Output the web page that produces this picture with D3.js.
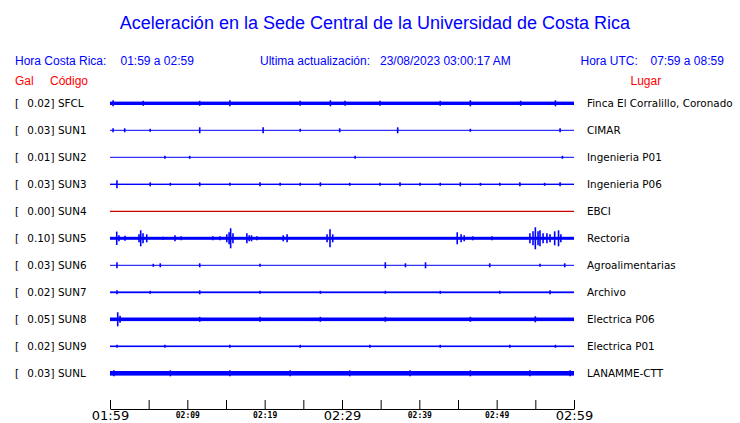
<!DOCTYPE html>
<html><head><meta charset="utf-8">
<script src="https://cdn.jsdelivr.net/npm/d3@7"></script>
<style>body{margin:0;background:#fff}svg{display:block}</style>
</head><body>
<svg id="c" width="740" height="423"></svg>
<script>
// ---- data ----
const title = "Aceleración en la Sede Central de la Universidad de Costa Rica";
const horaCR = "01:59 a 02:59";
const horaUTC = "07:59 a 08:59";
const actualizacion = "23/08/2023 03:00:17 AM";
const codes = ["SFCL","SUN1","SUN2","SUN3","SUN4","SUN5","SUN6","SUN7","SUN8","SUN9","SUNL"];
const gal = ["0.02","0.03","0.01","0.03","0.00","0.10","0.03","0.02","0.05","0.02","0.03"];
const places = ["Finca El Corralillo, Coronado","CIMAR","Ingenieria P01","Ingenieria P06","EBCI","Rectoria","Agroalimentarias","Archivo","Electrica P06","Electrica P01","LANAMME-CTT"];
// minutes after 01:59
const tickMinutes = [0,5,10,15,20,25,30,35,40,45,50,55,60];
const tickLabels = {0:"01:59",10:"02:09",20:"02:19",30:"02:29",40:"02:39",50:"02:49",60:"02:59"};
const bigTicks = [0,30,60];
// background noise level per station (relative amplitude)
const noise = [1.7,0.5,0.5,0.7,0.5,1.5,0.5,0.9,1.8,0.8,2.3];
// peaks per station: [minute, amplitude]
const peaksSFCL = [[0.4,3],[4.3,2.5],[11.6,2.5],[15.5,3],[24.6,2.5],[28.5,3],[30.4,2.5],[34.9,2.5],[42.7,2.5],[46.6,3],[53.1,2.5],[57.6,3]];
const peaksSUN1 = [[0.4,2],[1.9,2],[5.2,1.5],[11.6,3],[19.8,3],[24.6,1.5],[29.7,2],[37.2,3],[46.6,1.5],[58.2,2]];
const peaksSUN2 = [[7.1,1.5],[10.3,1.5],[31.7,1.5],[58.5,1.5]];
const peaksSUN3 = [[0.9,4],[5.2,2],[7.8,1.5],[11.6,2],[15.5,1.5],[19.4,2],[22,1.5],[24.6,1.5],[27.2,2],[31,1.5],[34.9,1.5],[37.5,2],[40.1,1.5],[42.7,1.5],[45.3,2],[47.9,1.5],[50.4,1.5],[53,2],[56.2,1.5],[58.2,2]];
const peaksSUN4 = [];
const peaksSUN5 = [[0.87,6.7],[1.16,3],[1.94,2.5],[3.75,4],[3.97,8],[4.27,5],[4.75,4],[6.85,1.5],[8.4,3],[9.2,2],[13.3,2],[14.2,2],[15.1,4],[15.4,6],[15.6,10],[15.9,5],[17.7,5],[18,3],[18.3,3],[19,2],[22.4,3],[22.9,4],[28.07,4],[28.45,9],[28.8,4],[44.9,6],[45.4,4],[45.8,3],[46.9,2],[49.4,2],[54.3,5],[54.7,7],[55,11],[55.35,7],[55.6,8],[56,5],[56.5,5],[56.9,4],[57.5,7],[58,8],[58.3,4]];
const peaksSUN6 = [[0.9,3],[5.6,1.5],[6.5,2],[11.6,2],[19.4,1.5],[35.6,3],[38.2,2],[40.8,3],[49.1,2],[55.6,1.5],[58.8,2]];
const peaksSUN7 = [[0.9,2],[5.2,1.5],[11.6,2],[19.4,1.5],[27.2,1.5],[35.6,1.5],[42.7,1.5],[50.4,1.5],[56.9,2]];
const peaksSUN8 = [[1.0,7],[1.3,3.5],[11.6,2.5],[19.4,2.5],[27.2,2.5],[35.6,2.5],[46.6,2.5],[55,3]];
const peaksSUN9 = [[0.9,1.5],[7.1,1.5],[15.5,1.5],[24.6,1.5],[33.6,1.5],[42.7,1.5],[51.7,1.5],[57.6,1.5]];
const peaksSUNL = [[0.5,3],[7.8,3],[15.5,3],[23.3,3],[31,3],[38.8,3],[46.6,3],[54.3,3],[59.5,3]];
const peaks = [peaksSFCL,peaksSUN1,peaksSUN2,peaksSUN3,peaksSUN4,peaksSUN5,peaksSUN6,peaksSUN7,peaksSUN8,peaksSUN9,peaksSUNL];
const traceColors = codes.map(c => c === "SUN4" ? "#cc0000" : "#0000ff");

// ---- drawing ----
const svg = d3.select("#c");
const blue = "#0000ff", red = "#ff0000";
const x = d3.scaleLinear().domain([0,60]).range([110,574]);
const row = d3.scaleLinear().domain([0,10]).range([103.3, 373.3]);
const amp = d3.scaleLinear().domain([0,10]).range([0,10]);

svg.append("text").attr("x",375).attr("y",28.5).attr("text-anchor","middle")
  .attr("font-family","Liberation Sans, Arial, sans-serif").attr("font-size",18).attr("fill",blue).text(title);

const hdr = (t,xx,yy,col,anchor) => svg.append("text").attr("x",xx).attr("y",yy)
  .attr("text-anchor",anchor||"start").attr("font-family","Liberation Sans, Arial, sans-serif")
  .attr("font-size",12).attr("fill",col).text(t);
hdr("Hora Costa Rica:",15,65,blue);
hdr(horaCR,120.5,65,blue);
hdr("Ultima actualización:",260,65,blue);
hdr(actualizacion,380,65,blue);
hdr("Hora UTC:",580.5,65,blue);
hdr(horaUTC,650.5,65,blue);
hdr("Gal",15,85,red);
hdr("Código",50,85,red);
hdr("Lugar",630.5,85,red);

const g = svg.append("g");
codes.forEach((c,i) => {
  const y = row(i);
  const font = t => t.attr("font-family","DejaVu Sans, sans-serif").attr("font-size",10.4).attr("fill","#000");
  g.append("text").attr("x",15).attr("y",y+4).call(font).text("[");
  g.append("text").attr("x",54.5).attr("y",y+4).attr("text-anchor","end").call(font).text(gal[i] + "]");
  g.append("text").attr("x",58).attr("y",y+4).call(font).text(c);
  g.append("text").attr("x",587).attr("y",y+4).call(font).text(places[i]);
  // background band
  const n = amp(noise[i]);
  if (codes[i] === "SUN4") {
    g.append("line").attr("x1",x(0)).attr("x2",x(60)).attr("y1",y).attr("y2",y)
      .attr("stroke",traceColors[i]).attr("stroke-width",1.2);
  } else {
    g.append("rect").attr("x",x(0)).attr("width",x(60)-x(0)).attr("y",y-n).attr("height",Math.max(1,2*n))
      .attr("fill",traceColors[i]);
  }
  g.selectAll(null).data(peaks[i]).join("line")
    .attr("x1",d=>x(d[0])).attr("x2",d=>x(d[0]))
    .attr("y1",d=>y-amp(d[1])).attr("y2",d=>y+amp(d[1]))
    .attr("stroke",traceColors[i]).attr("stroke-width",1.6);
});

// axis
const ax = svg.append("g").attr("transform","translate(0,409)")
  .call(d3.axisBottom(x).tickValues(tickMinutes).tickSize(-9).tickSizeOuter(0).tickFormat(d => tickLabels[d] || ""));
ax.select(".domain").attr("stroke","#000");
ax.selectAll(".tick line").attr("stroke","#000");
ax.selectAll(".tick text").attr("fill","#000")
  .each(function(d){
    const t = d3.select(this);
    if (bigTicks.includes(d)) t.attr("font-family","DejaVu Sans, sans-serif").attr("font-size",13).attr("y",2).attr("dy","0.71em");
    else t.attr("font-family","DejaVu Sans Mono, monospace").attr("font-weight","bold").attr("font-size",8).attr("y",3).attr("dy","0.71em");
  });
</script>
</body></html>
